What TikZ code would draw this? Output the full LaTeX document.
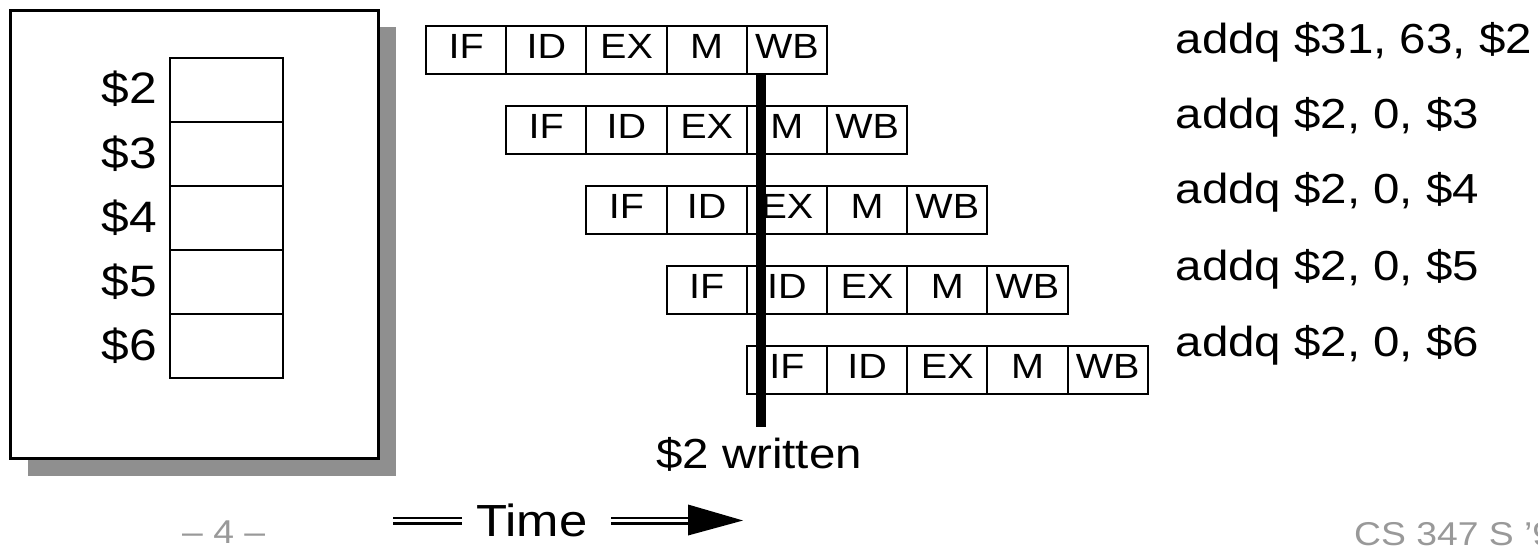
\documentclass[tikz,border=0pt]{standalone}
\usepackage{fontspec}
\setmainfont{Liberation Sans}[FakeStretch=1.13]
\usetikzlibrary{shadows}
\definecolor{shadowgray}{HTML}{8F8F8F}
\definecolor{footgray}{HTML}{999999}
\tikzset{
  stage/.style={draw, line width=2pt, minimum width=80.2pt, minimum height=48pt,
    inner sep=0pt, anchor=north west, text height=25pt, text depth=6.5pt,
    font=\fontsize{35}{40}\selectfont},
  regcell/.style={draw, line width=2.2pt, minimum width=113pt, minimum height=64pt,
    inner sep=0pt, anchor=north west},
  reglabel/.style={anchor=base east, inner sep=0pt, font=\fontsize{44}{54}\selectfont},
  instr/.style={anchor=base west, inner sep=0pt, font=\fontsize{42}{50}\selectfont},
  dbl/.style={double, double distance=2.6pt, line width=2.7pt},
  foot/.style={anchor=base west, inner sep=0pt, text=footgray,
    font=\fontsize{33}{38}\selectfont},
}
\begin{document}
\begin{tikzpicture}[x=1pt,y=-1pt]
\useasboundingbox (0,0) rectangle (1538,548);

% register file with its drop shadow
\node[draw, line width=3pt, fill=white, minimum width=368pt, minimum height=448pt,
  inner sep=0pt, anchor=north west,
  drop shadow={shadow xshift=17pt, shadow yshift=-17pt, fill=shadowgray, opacity=1}]
  (regfile) at (9,9) {};

\foreach \r [count=\i from 0] in {2,...,6} {
  \node[regcell] (reg\r) at (169, {57+64*\i}) {};
  \node[reglabel] (lab\r) at (157.5, {104+64*\i}) {\$\r};
}

% five staggered pipeline rows
\foreach \r in {0,...,4} {
  \foreach \s [count=\k from 0] in {IF,ID,EX,M,WB} {
    \node[stage] (st\r-\k) at ({425+80.2*(\r+\k)}, {24.7+80*\r}) {\s};
  }
}

% instant at which $2 is written
\coordinate (bartop) at (761,73.7);
\coordinate (barbot) at (761,427);
\draw[line width=10pt] (bartop) -- (barbot);
\node[anchor=base, inner sep=0pt, font=\fontsize{42}{50}\selectfont] (written)
  at (759,468) {\$2 written};

% instruction listing
\node[instr] (i1) at (1175.5,53.3) {addq \$31, 63, \$2};
\node[instr] (i2) at (1175.5,128.3) {addq \$2, 0, \$3};
\node[instr] (i3) at (1175.5,204) {addq \$2, 0, \$4};
\node[instr] (i4) at (1175.5,280) {addq \$2, 0, \$5};
\node[instr] (i5) at (1175.5,356) {addq \$2, 0, \$6};

% time axis
\coordinate (tA) at (393,520.5);
\coordinate (tB) at (462,520.5);
\node[anchor=base west, inner sep=0pt, font=\fontsize{45}{54}\selectfont] (time)
  at (476,536) {Time};
\coordinate (tC) at (611,520.5);
\coordinate (tD) at (689,520.5);
\coordinate (hu) at (688,504.5);
\coordinate (hl) at (688,535.5);
\coordinate (tip) at (743,520.5);
\draw[dbl] (tA) -- (tB);
\draw[dbl] (tC) -- (tD);
\fill (hu) -- (tip) -- (hl) -- cycle;

% footer
\node[foot] (page) at (182,543) {– 4 –};
\node[foot] (course) at (1354,545) {CS 347 S ’9};
\end{tikzpicture}
\end{document}
